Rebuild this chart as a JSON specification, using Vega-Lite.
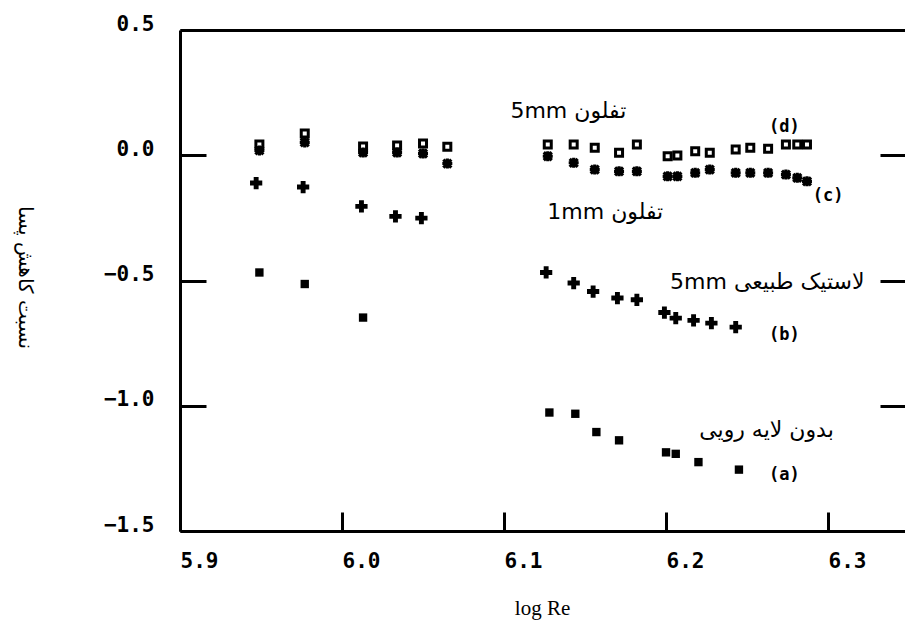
{
  "$schema": "https://vega.github.io/schema/vega-lite/v6.json",
  "width": 725,
  "height": 501,
  "autosize": {"type": "none"},
  "padding": {"left": 180, "top": 30, "right": 0, "bottom": 99},
  "background": "white",
  "config": {
    "view": {"stroke": null},
    "axis": {"grid": false, "domainColor": "black", "tickColor": "black", "domainWidth": 3, "tickWidth": 3, "labelColor": "black", "titleColor": "black"}
  },
  "datasets": {
    "pts": [
      {"series": "a", "logRe": 5.949, "ratio": -0.468},
      {"series": "a", "logRe": 5.977, "ratio": -0.514},
      {"series": "a", "logRe": 6.013, "ratio": -0.648},
      {"series": "a", "logRe": 6.128, "ratio": -1.027},
      {"series": "a", "logRe": 6.144, "ratio": -1.032},
      {"series": "a", "logRe": 6.157, "ratio": -1.105},
      {"series": "a", "logRe": 6.171, "ratio": -1.138},
      {"series": "a", "logRe": 6.200, "ratio": -1.186},
      {"series": "a", "logRe": 6.206, "ratio": -1.192},
      {"series": "a", "logRe": 6.220, "ratio": -1.225},
      {"series": "a", "logRe": 6.245, "ratio": -1.255},
      {"series": "b", "logRe": 5.947, "ratio": -0.111},
      {"series": "b", "logRe": 5.976, "ratio": -0.127},
      {"series": "b", "logRe": 6.012, "ratio": -0.204},
      {"series": "b", "logRe": 6.033, "ratio": -0.244},
      {"series": "b", "logRe": 6.049, "ratio": -0.251},
      {"series": "b", "logRe": 6.126, "ratio": -0.468},
      {"series": "b", "logRe": 6.143, "ratio": -0.510},
      {"series": "b", "logRe": 6.155, "ratio": -0.544},
      {"series": "b", "logRe": 6.170, "ratio": -0.570},
      {"series": "b", "logRe": 6.182, "ratio": -0.577},
      {"series": "b", "logRe": 6.199, "ratio": -0.628},
      {"series": "b", "logRe": 6.206, "ratio": -0.650},
      {"series": "b", "logRe": 6.217, "ratio": -0.659},
      {"series": "b", "logRe": 6.228, "ratio": -0.670},
      {"series": "b", "logRe": 6.243, "ratio": -0.686},
      {"series": "d", "logRe": 5.949, "ratio": 0.043},
      {"series": "d", "logRe": 5.977, "ratio": 0.087},
      {"series": "d", "logRe": 6.013, "ratio": 0.035},
      {"series": "d", "logRe": 6.034, "ratio": 0.039},
      {"series": "d", "logRe": 6.050, "ratio": 0.047},
      {"series": "d", "logRe": 6.065, "ratio": 0.034},
      {"series": "d", "logRe": 6.127, "ratio": 0.043},
      {"series": "d", "logRe": 6.143, "ratio": 0.043},
      {"series": "d", "logRe": 6.156, "ratio": 0.030},
      {"series": "d", "logRe": 6.171, "ratio": 0.010},
      {"series": "d", "logRe": 6.182, "ratio": 0.043},
      {"series": "d", "logRe": 6.201, "ratio": -0.004},
      {"series": "d", "logRe": 6.207, "ratio": -0.001},
      {"series": "d", "logRe": 6.218, "ratio": 0.016},
      {"series": "d", "logRe": 6.227, "ratio": 0.010},
      {"series": "d", "logRe": 6.243, "ratio": 0.023},
      {"series": "d", "logRe": 6.252, "ratio": 0.030},
      {"series": "d", "logRe": 6.263, "ratio": 0.026},
      {"series": "d", "logRe": 6.274, "ratio": 0.043},
      {"series": "d", "logRe": 6.281, "ratio": 0.043},
      {"series": "d", "logRe": 6.287, "ratio": 0.043},
      {"series": "c", "logRe": 5.949, "ratio": 0.019},
      {"series": "c", "logRe": 5.977, "ratio": 0.051},
      {"series": "c", "logRe": 6.013, "ratio": 0.011},
      {"series": "c", "logRe": 6.034, "ratio": 0.011},
      {"series": "c", "logRe": 6.050, "ratio": 0.007},
      {"series": "c", "logRe": 6.065, "ratio": -0.033},
      {"series": "c", "logRe": 6.127, "ratio": -0.004},
      {"series": "c", "logRe": 6.143, "ratio": -0.030},
      {"series": "c", "logRe": 6.156, "ratio": -0.057},
      {"series": "c", "logRe": 6.171, "ratio": -0.064},
      {"series": "c", "logRe": 6.182, "ratio": -0.064},
      {"series": "c", "logRe": 6.201, "ratio": -0.084},
      {"series": "c", "logRe": 6.207, "ratio": -0.084},
      {"series": "c", "logRe": 6.218, "ratio": -0.070},
      {"series": "c", "logRe": 6.227, "ratio": -0.057},
      {"series": "c", "logRe": 6.243, "ratio": -0.070},
      {"series": "c", "logRe": 6.252, "ratio": -0.070},
      {"series": "c", "logRe": 6.263, "ratio": -0.070},
      {"series": "c", "logRe": 6.274, "ratio": -0.077},
      {"series": "c", "logRe": 6.281, "ratio": -0.090},
      {"series": "c", "logRe": 6.287, "ratio": -0.104}
    ],
    "notes": [
      {"logRe": 6.1397, "ratio": 0.178, "label": "5mm تفلون"},
      {"logRe": 6.1625, "ratio": -0.225, "label": "1mm تفلون"},
      {"logRe": 6.2625, "ratio": -0.504, "label": "5mm لاستیک طبیعی"},
      {"logRe": 6.262, "ratio": -1.095, "label": "بدون لایه رویی"}
    ],
    "tags": [
      {"logRe": 6.273, "ratio": 0.114, "label": "(d)"},
      {"logRe": 6.300, "ratio": -0.161, "label": "(c)"},
      {"logRe": 6.273, "ratio": -0.716, "label": "(b)"},
      {"logRe": 6.273, "ratio": -1.275, "label": "(a)"}
    ]
  },
  "resolve": {"axis": {"x": "independent", "y": "independent"}},
  "layer": [
    {
      "data": {"name": "pts"},
      "transform": [{"filter": "datum.series === 'a'"}],
      "mark": {"type": "point", "shape": "square", "filled": true, "size": 70, "color": "black", "opacity": 1},
      "encoding": {
        "x": {
          "field": "logRe", "type": "quantitative",
          "scale": {"domain": [5.9, 6.3475], "nice": false, "zero": false},
          "axis": {
            "orient": "bottom", "values": [5.9, 6.0, 6.1, 6.2, 6.3], "format": ".1f",
            "tickSize": -19, "labelPadding": 38, "labelAlign": "left", "labelBaseline": "top",
            "labelFont": "DejaVu Sans Mono", "labelFontWeight": "bold", "labelFontSize": 21,
            "labelFlush": false, "labelOverlap": false,
            "title": "log Re", "titleFont": "Liberation Serif", "titleFontSize": 21, "titleFontWeight": "normal",
            "titleX": 362, "titleY": 77, "titleBaseline": "middle", "titleAlign": "center"
          }
        },
        "y": {
          "field": "ratio", "type": "quantitative",
          "scale": {"domain": [-1.5, 0.5], "nice": false, "zero": false},
          "axis": {
            "orient": "left", "values": [-1.5, -1.0, -0.5, 0.0, 0.5], "format": ".1f",
            "tickSize": -26, "labelPadding": 52, "labelAlign": "right", "labelBaseline": "alphabetic",
            "labelFont": "DejaVu Sans Mono", "labelFontWeight": "bold", "labelFontSize": 21,
            "labelFlush": false, "labelOverlap": false,
            "title": "نسبت کاهش پسا", "titleFont": "DejaVu Sans", "titleFontSize": 20, "titleFontWeight": "normal",
            "titleAngle": 90, "titleX": -156, "titleY": 247, "titleAlign": "center", "titleBaseline": "middle"
          }
        }
      }
    },
    {
      "data": {"name": "pts"},
      "transform": [{"filter": "datum.series === 'b'"}],
      "mark": {"type": "point", "shape": "cross", "filled": true, "size": 150, "color": "black", "opacity": 1},
      "encoding": {
        "x": {"field": "logRe", "type": "quantitative", "axis": null},
        "y": {"field": "ratio", "type": "quantitative", "axis": null}
      }
    },
    {
      "data": {"name": "pts"},
      "transform": [{"filter": "datum.series === 'd'"}],
      "mark": {"type": "point", "shape": "square", "filled": false, "size": 49, "stroke": "black", "strokeWidth": 3, "opacity": 1},
      "encoding": {
        "x": {"field": "logRe", "type": "quantitative", "axis": null},
        "y": {"field": "ratio", "type": "quantitative", "axis": null}
      }
    },
    {
      "data": {"name": "pts"},
      "transform": [{"filter": "datum.series === 'c'"}],
      "mark": {"type": "point", "shape": "M-1,0L1,0M0,-1L0,1M-0.8,-0.8L0.8,0.8M-0.8,0.8L0.8,-0.8", "filled": false, "size": 100, "stroke": "black", "strokeWidth": 3.2, "opacity": 1},
      "encoding": {
        "x": {"field": "logRe", "type": "quantitative", "axis": null},
        "y": {"field": "ratio", "type": "quantitative", "axis": null}
      }
    },
    {
      "data": {"name": "notes"},
      "mark": {"type": "text", "font": "DejaVu Sans", "fontSize": 22, "align": "center", "baseline": "middle", "color": "black"},
      "encoding": {
        "x": {"field": "logRe", "type": "quantitative", "axis": {"orient": "top", "domain": true, "ticks": false, "labels": false, "title": null}},
        "y": {"field": "ratio", "type": "quantitative", "axis": {"orient": "right", "domain": false, "values": [0.0, -0.5, -1.0], "tickSize": -25, "labels": false, "title": null}},
        "text": {"field": "label", "type": "nominal"}
      }
    },
    {
      "data": {"name": "tags"},
      "mark": {"type": "text", "font": "DejaVu Sans Mono", "fontWeight": "bold", "fontSize": 17, "align": "center", "baseline": "middle", "color": "black"},
      "encoding": {
        "x": {"field": "logRe", "type": "quantitative", "axis": null},
        "y": {"field": "ratio", "type": "quantitative", "axis": null},
        "text": {"field": "label", "type": "nominal"}
      }
    }
  ]
}
